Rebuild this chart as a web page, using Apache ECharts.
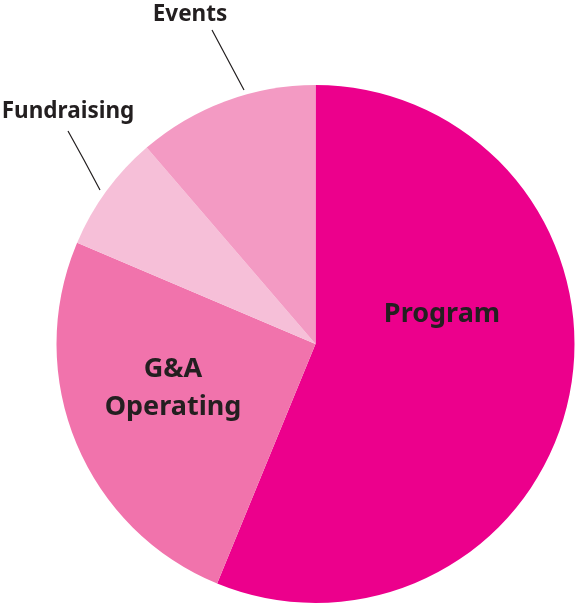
<!DOCTYPE html>
<html>
<head>
<meta charset="utf-8">
<script src="https://cdn.jsdelivr.net/npm/echarts@6/dist/echarts.min.js"></script>
<style>
html,body{margin:0;padding:0;background:#fff;}
#chart{width:577px;height:604px;}
</style>
</head>
<body>
<div id="chart"></div>
<script>
const categories = ['Program', 'G&A\nOperating', 'Fundraising', 'Events'];
const values = [56.2, 25.2, 7.3, 11.3];
const colors = ['#EC008C', '#F173AC', '#F6BFD8', '#F39AC3'];

// label placement (presentation only)
const labelPlacement = [
  { x: 442, y: 314, inside: true, size: 27 },
  { x: 173, y: 388, inside: true, size: 27 },
  { x: 68, y: 112, inside: false, size: 22.5, line: [[100, 190], [84, 160], [68, 131]] },
  { x: 190, y: 15, inside: false, size: 22.5, line: [[244, 90], [228, 60], [212, 30]] }
];

const chart = echarts.init(document.getElementById('chart'));
const data = categories.map((name, i) => ({
  name: name,
  value: values[i],
  itemStyle: { color: colors[i] },
  label: {
    position: labelPlacement[i].inside ? 'inside' : 'outside',
    fontSize: labelPlacement[i].size,
    lineHeight: 38,
    overflow: 'none'
  },
  labelLine: { show: !labelPlacement[i].inside }
}));

chart.setOption({
  animation: false,
  series: [{
    type: 'pie',
    center: [315.5, 344],
    radius: 259,
    startAngle: 90,
    clockwise: true,
    data: data,
    label: {
      show: true,
      color: '#231F20',
      fontFamily: 'Noto Sans',
      fontWeight: 'bold',
      align: 'center',
      verticalAlign: 'middle',
      overflow: 'none',
      formatter: '{b}'
    },
    labelLine: {
      lineStyle: { color: '#231F20', width: 1.2 }
    },
    labelLayout: function (params) {
      const p = labelPlacement[params.dataIndex];
      const out = { x: p.x, y: p.y, align: 'center', verticalAlign: 'middle' };
      if (p.line) out.labelLinePoints = p.line;
      return out;
    },
    emphasis: { disabled: true }
  }]
});
</script>
</body>
</html>
